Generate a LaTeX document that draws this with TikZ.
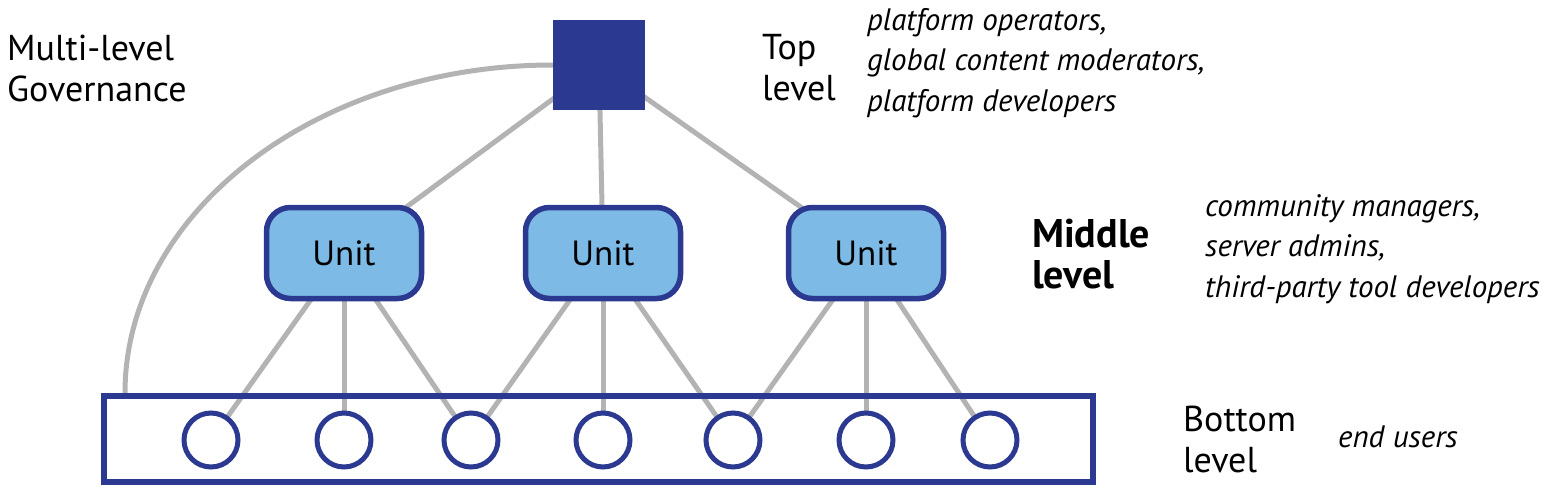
\documentclass[tikz,border=0pt]{standalone}
\usepackage{fontspec}
\setmainfont{PT Sans}
\usetikzlibrary{backgrounds}
\definecolor{navy}{HTML}{2B3990}
\definecolor{unitblue}{HTML}{7DBBE6}
\definecolor{linegray}{HTML}{B3B3B3}
\begin{document}
\begin{tikzpicture}[x=1pt,y=-1pt,
  unitbox/.style={draw=navy, fill=unitblue, line width=5.5pt, rounded corners=24pt, minimum width=155pt, minimum height=91pt, inner sep=0pt, font=\fontsize{35}{38}\selectfont},
  user/.style={circle, draw=navy, fill=white, line width=5pt, minimum size=54pt, inner sep=0pt},
  topbox/.style={fill=navy, minimum width=92pt, minimum height=90pt, inner sep=0pt},
  bar/.style={draw=navy, line width=6pt, minimum width=989pt, minimum height=86pt, inner sep=0pt},
  link/.style={draw=linegray, line width=5pt},
  lbl/.style={anchor=west, align=left, inner sep=0pt, font=\fontsize{36}{41}\selectfont},
  role/.style={anchor=west, align=left, inner sep=0pt, font=\itshape\fontsize{31}{40.5}\selectfont},
]
\useasboundingbox (0,0) rectangle (1548,499);
\node[topbox] (top) at (599,65) {};
\node[unitbox] (u1) at (344,253) {Unit};
\node[unitbox] (u2) at (603,253) {Unit};
\node[unitbox] (u3) at (866,253) {Unit};
\node[bar] (bottom) at (598.5,439) {};
\node[user] (c1) at (211,440) {};
\node[user] (c2) at (344,440) {};
\node[user] (c3) at (471,440) {};
\node[user] (c4) at (603,440) {};
\node[user] (c5) at (733,440) {};
\node[user] (c6) at (866,440) {};
\node[user] (c7) at (990,440) {};
\coordinate (arcend) at (125,393);
\begin{scope}[on background layer]
\draw[link] (top.center) -- (u1.center);
\draw[link] (top.center) -- (u2.center);
\draw[link] (top.center) -- (u3.center);
\draw[link] (u1.center) -- (c1.center);
\draw[link] (u1.center) -- (c2.center);
\draw[link] (u1.center) -- (c3.center);
\draw[link] (u2.center) -- (c3.center);
\draw[link] (u2.center) -- (c4.center);
\draw[link] (u2.center) -- (c5.center);
\draw[link] (u3.center) -- (c5.center);
\draw[link] (u3.center) -- (c6.center);
\draw[link] (u3.center) -- (c7.center);
\draw[link] (top.west) .. controls (317,65) and (125,212) .. (arcend);
\end{scope}
\node[lbl] (gov) at (7,68) {Multi-level\\Governance};
\node[lbl] (toplbl) at (762,68) {Top\\level};
\node[role] (toproles) at (867,63) {platform operators,\\global content moderators,\\platform developers};
\node[lbl, font=\bfseries\fontsize{40}{41}\selectfont] (midlbl) at (1032,254) {Middle\\level};
\node[role] (midroles) at (1205,249) {community managers,\\server admins,\\third-party tool developers};
\node[lbl] (botlbl) at (1183,439) {Bottom\\level};
\node[role] (botroles) at (1338,437) {end users};
\end{tikzpicture}
\end{document}
